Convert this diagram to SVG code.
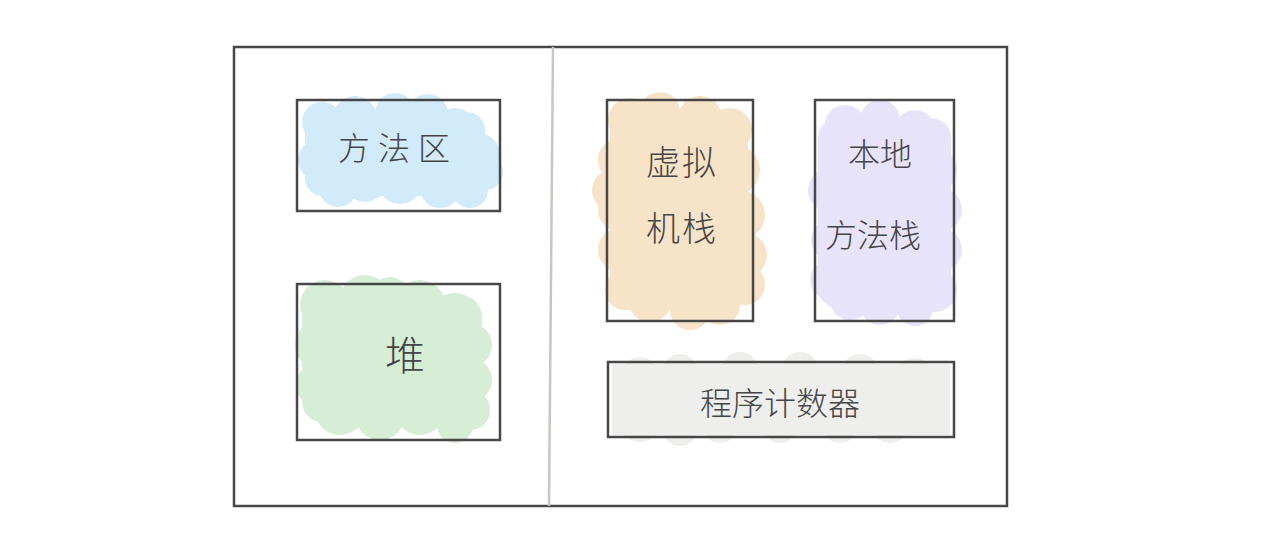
<svg xmlns="http://www.w3.org/2000/svg" width="1286" height="548" viewBox="0 0 1286 548">
<style>
.box{fill:none;stroke:#474747;stroke-width:2.5}
.lbl{font-family:"Noto Sans CJK SC","Noto Sans",sans-serif;font-weight:300;fill:#454545;text-anchor:middle}
.blue{fill:#d2ebfb}.green{fill:#d6edd6}.orange{fill:#f7e4c8}.purple{fill:#e7e3fa}.gray{fill:#eeeeed}
</style>
<rect width="1286" height="548" fill="#ffffff"/>
<g id="frame">
<rect x="234" y="47" width="773" height="459" class="box"/>
<line x1="553" y1="47" x2="549" y2="506" stroke="#c9c6c2" stroke-width="2.5"/>
</g>
<g id="method-area">
<g class="blue">
<circle cx="322" cy="122" r="20"/><circle cx="355" cy="118" r="22"/><circle cx="395" cy="113" r="20"/><circle cx="428" cy="114" r="20"/><circle cx="455" cy="130" r="22"/><circle cx="478" cy="155" r="22"/><circle cx="485" cy="172" r="18"/><circle cx="470" cy="190" r="18"/><circle cx="440" cy="188" r="20"/><circle cx="400" cy="182" r="22"/><circle cx="365" cy="180" r="22"/><circle cx="338" cy="188" r="19"/><circle cx="318" cy="160" r="20"/>
<rect x="305" y="112" width="180" height="84" rx="18"/>
</g>
<rect x="297" y="100" width="203" height="111" class="box"/>
<text x="398" y="160" class="lbl" font-size="32" letter-spacing="8">方法区</text>
</g>
<g id="heap">
<g class="green">
<circle cx="325" cy="305" r="25"/><circle cx="365" cy="300" r="25"/><circle cx="390" cy="295" r="18"/><circle cx="420" cy="305" r="25"/><circle cx="455" cy="318" r="25"/><circle cx="470" cy="345" r="22"/><circle cx="470" cy="380" r="22"/><circle cx="470" cy="410" r="20"/><circle cx="455" cy="425" r="18"/><circle cx="420" cy="410" r="25"/><circle cx="380" cy="415" r="25"/><circle cx="340" cy="410" r="25"/><circle cx="318" cy="385" r="22"/><circle cx="320" cy="345" r="25"/>
<rect x="302" y="295" width="180" height="128" rx="22"/>
</g>
<rect x="297" y="284" width="203" height="156" class="box"/>
<text x="405" y="370" class="lbl" font-size="40">堆</text>
</g>
<g id="vm-stack">
<g class="orange">
<circle cx="630" cy="120" r="22"/><circle cx="660" cy="112" r="20"/><circle cx="700" cy="118" r="22"/><circle cx="730" cy="130" r="22"/><circle cx="735" cy="170" r="25"/><circle cx="740" cy="215" r="25"/><circle cx="745" cy="255" r="22"/><circle cx="745" cy="285" r="20"/><circle cx="720" cy="305" r="20"/><circle cx="690" cy="310" r="20"/><circle cx="650" cy="300" r="22"/><circle cx="625" cy="290" r="20"/><circle cx="620" cy="250" r="22"/><circle cx="620" cy="210" r="22"/><circle cx="612" cy="190" r="20"/><circle cx="620" cy="160" r="22"/>
<rect x="610" y="110" width="138" height="200" rx="20"/>
</g>
<rect x="607" y="100" width="146" height="221" class="box"/>
<text class="lbl" font-size="34" letter-spacing="2"><tspan x="682" y="175">虚拟</tspan><tspan x="682" y="241">机栈</tspan></text>
</g>
<g id="native-stack">
<g class="purple">
<circle cx="845" cy="125" r="20"/><circle cx="880" cy="120" r="20"/><circle cx="915" cy="130" r="20"/><circle cx="935" cy="170" r="22"/><circle cx="940" cy="210" r="22"/><circle cx="940" cy="250" r="22"/><circle cx="935" cy="290" r="22"/><circle cx="915" cy="308" r="18"/><circle cx="880" cy="305" r="20"/><circle cx="850" cy="300" r="20"/><circle cx="830" cy="280" r="20"/><circle cx="833" cy="240" r="22"/><circle cx="830" cy="190" r="22"/>
<rect x="818" y="118" width="133" height="190" rx="20"/>
</g>
<rect x="815" y="100" width="139" height="221" class="box"/>
<text class="lbl" font-size="32"><tspan x="880" y="166">本地</tspan><tspan x="873" y="247">方法栈</tspan></text>
</g>
<g id="pc-register">
<g class="gray">
<circle cx="640" cy="375" r="18"/><circle cx="640" cy="420" r="22"/><circle cx="680" cy="372" r="18"/><circle cx="740" cy="370" r="18"/><circle cx="800" cy="370" r="18"/><circle cx="860" cy="372" r="18"/><circle cx="915" cy="378" r="20"/><circle cx="930" cy="415" r="20"/><circle cx="890" cy="425" r="18"/><circle cx="840" cy="425" r="18"/><circle cx="780" cy="425" r="18"/><circle cx="720" cy="425" r="18"/><circle cx="680" cy="428" r="18"/>
<rect x="612" y="364" width="338" height="71"/>
</g>
<rect x="608" y="362" width="346" height="75" class="box"/>
<text x="780" y="415" class="lbl" font-size="32">程序计数器</text>
</g>
<g id="connectors"></g>
</svg>
